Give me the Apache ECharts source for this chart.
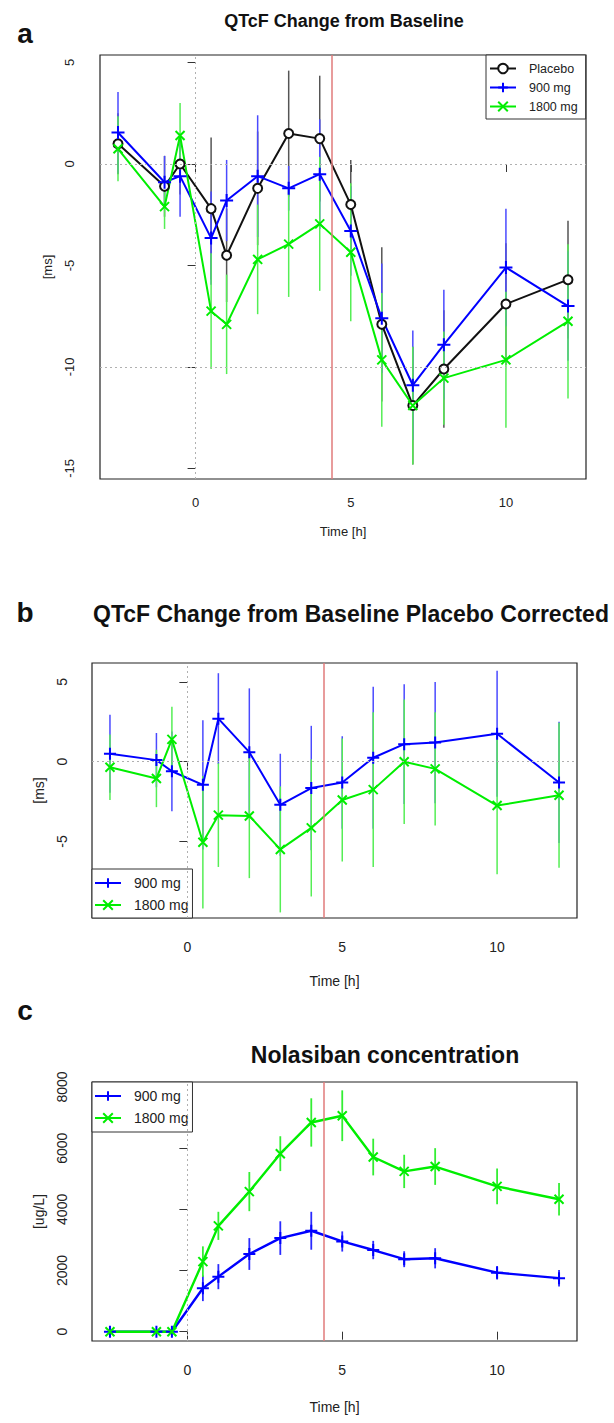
<!DOCTYPE html>
<html>
<head>
<meta charset="utf-8">
<script src="https://cdn.jsdelivr.net/npm/echarts@6/dist/echarts.min.js"></script>
<style>
html,body{margin:0;padding:0;background:#fff;}
#chart{width:614px;height:1423px;}
</style>
</head>
<body>
<div id="chart"></div>
<script>
// ---------------- DATA ----------------
const times = [-2.5, -1, -0.5, 0.5, 1, 2, 3, 4, 5, 6, 7, 8, 10, 12];
const xTicks = [0, 5, 10];
const yTicksA = [-15, -10, -5, 0, 5];
const yTicksB = [-5, 0, 5];
const yTicksC = [0, 2000, 4000, 6000, 8000];
const tmaxLine = [4.4];
const vRefA = [0], hRefA = [0, -10];
const vRefB = [0], hRefB = [0];
const vRefC = [0], hRefC = [];

// Panel a: QTcF change from baseline (mean, half error bar)
const placeboA    = [1.0, -1.1, 0.0, -2.2, -4.5, -1.2, 1.5, 1.25, -2.0, -7.9, -11.9, -10.1, -6.9, -5.7];
const placeboAErr = [1.5, 1.5, 1.5, 3.5, 2.3, 2.8, 3.1, 3.1, 2.2, 3.8, 2.9, 2.9, 3.0, 2.9];
const mg900A      = [1.55, -0.9, -0.6, -3.65, -1.8, -0.6, -1.2, -0.5, -3.3, -7.6, -10.9, -8.9, -5.1, -7.0];
const mg900AErr   = [2.0, 1.3, 2.0, 2.3, 2.0, 3.0, 1.1, 2.7, 2.2, 2.7, 2.7, 2.7, 2.9, 2.7];
const mg1800A     = [0.75, -2.1, 1.4, -7.25, -7.9, -4.7, -3.95, -2.95, -4.35, -9.65, -11.9, -10.55, -9.65, -7.75];
const mg1800AErr  = [1.6, 1.1, 1.6, 2.85, 2.45, 2.7, 2.6, 3.3, 3.4, 3.3, 2.9, 2.3, 3.35, 3.8];

// Panel b: placebo corrected
const mg900B      = [0.5, 0.1, -0.6, -1.45, 2.7, 0.6, -2.7, -1.65, -1.3, 0.25, 1.1, 1.2, 1.75, -1.3];
const mg900BErr   = [2.45, 1.7, 2.5, 4.05, 2.85, 4.0, 3.2, 3.9, 2.9, 4.45, 3.75, 3.8, 3.95, 3.8];
const mg1800B     = [-0.35, -1.05, 1.4, -5.05, -3.35, -3.4, -5.5, -4.15, -2.4, -1.75, 0.0, -0.45, -2.75, -2.1];
const mg1800BErr  = [2.05, 1.8, 2.05, 4.15, 3.25, 3.9, 3.95, 4.3, 3.85, 4.85, 3.9, 3.55, 4.3, 4.55];

// Panel c: Nolasiban concentration [ug/L]
const mg900C      = [0, 0, 0, 1420, 1800, 2540, 3060, 3300, 2950, 2670, 2370, 2400, 1930, 1750];
const mg900CErr   = [0, 0, 0, 420, 410, 520, 550, 620, 330, 300, 260, 330, 220, 270];
const mg1800C     = [0, 0, 0, 2290, 3460, 4580, 5820, 6840, 7060, 5710, 5240, 5400, 4750, 4330];
const mg1800CErr  = [0, 0, 0, 500, 460, 640, 570, 790, 830, 600, 545, 600, 585, 535];

// ---------------- STYLE ----------------
const FONT = "'Liberation Sans', Arial, Helvetica, sans-serif";
const BLACK = '#111111', BLUE = '#0000ff', GREEN = '#00ee00';
const PLUS = 'path://M5,0L5,10M0,5L10,5';
const CROSS = 'path://M0,0L10,10M10,0L0,10';

const grids = [
  {left: 100, top: 55, width: 486, height: 424},
  {left: 92, top: 663, width: 485, height: 255},
  {left: 92, top: 1082, width: 485, height: 259}
];
const yRanges = [[-15.52, 5.37], [-9.8, 6.19], [-304, 8163]];
const yTicks = [yTicksA, yTicksB, yTicksC];
const yNames = ['[ms]', '[ms]', '[ug/L]'];
const labelSize = [13, 14, 14];
const plain = v => String(v);

const xAxes = grids.map((g, i) => ({
  type: 'value', gridIndex: i, min: -3.08, max: 12.58,
  axisLine: {show: false},
  splitLine: {show: false},
  axisTick: {show: true, inside: false, length: 8, customValues: xTicks, lineStyle: {color: '#333', width: 1}},
  axisLabel: {customValues: xTicks, formatter: plain, margin: i === 0 ? 17 : 22, fontSize: labelSize[i], color: '#222', fontFamily: FONT},
  name: 'Time [h]', nameLocation: 'middle', nameGap: i === 0 ? 46 : (i === 1 ? 56 : 59),
  nameTextStyle: {fontSize: labelSize[i], color: '#222', fontFamily: FONT}
}));
const yAxes = grids.map((g, i) => ({
  type: 'value', gridIndex: i, min: yRanges[i][0], max: yRanges[i][1],
  axisLine: {show: false},
  splitLine: {show: false},
  axisTick: {show: true, inside: false, length: 8, customValues: yTicks[i], lineStyle: {color: '#333', width: 1}},
  axisLabel: {customValues: yTicks[i], formatter: plain, rotate: 90, margin: i === 0 ? 24 : 23, fontSize: labelSize[i], color: '#222', fontFamily: FONT},
  name: yNames[i], nameLocation: 'middle', nameRotate: 90, nameGap: 46,
  nameTextStyle: {fontSize: labelSize[i], color: '#222', fontFamily: FONT}
}));

function errSeries(gi, means, errs, color, width) {
  return {
    type: 'custom', xAxisIndex: gi, yAxisIndex: gi, silent: true, z: 2,
    data: times.map((t, k) => [t, means[k] - errs[k], means[k] + errs[k]]),
    encode: {x: 0, y: [1, 2]},
    renderItem: function (params, api) {
      const p1 = api.coord([api.value(0), api.value(1)]);
      const p2 = api.coord([api.value(0), api.value(2)]);
      return {type: 'line', shape: {x1: p1[0], y1: p1[1], x2: p2[0], y2: p2[1]},
        style: {stroke: color, lineWidth: width}};
    }
  };
}

function refMarks(vRefs, hRefs, red) {
  const data = [];
  vRefs.forEach(v => data.push({xAxis: v, lineStyle: {color: '#b0b0b0', type: [2, 3], width: 1}}));
  hRefs.forEach(h => data.push({yAxis: h, lineStyle: {color: '#b0b0b0', type: [2, 3], width: 1}}));
  red.forEach(v => data.push({xAxis: v, lineStyle: {color: '#e07b7b', type: 'solid', width: 1.5}}));
  return {symbol: 'none', silent: true, label: {show: false}, data: data, animation: false};
}

function lineSeries(gi, name, means, color, symbol, size, lw, marks) {
  const s = {
    type: 'line', name: name, xAxisIndex: gi, yAxisIndex: gi, z: 3,
    data: times.map((t, k) => [t, means[k]]),
    symbol: symbol, symbolSize: size, showSymbol: true,
    lineStyle: {color: color, width: lw},
    itemStyle: {color: color, borderColor: color, borderWidth: symbol === 'emptyCircle' ? 1.6 : 2},
    animation: false
  };
  if (marks) s.markLine = marks;
  return s;
}

const series = [
  // panel a
  errSeries(0, placeboA, placeboAErr, '#555555', 1.5),
  errSeries(0, mg900A, mg900AErr, '#4a4aff', 1.5),
  errSeries(0, mg1800A, mg1800AErr, '#55ee55', 1.5),
  lineSeries(0, 'Placebo', placeboA, BLACK, 'emptyCircle', 9, 2, refMarks(vRefA, hRefA, tmaxLine)),
  lineSeries(0, '900 mg', mg900A, BLUE, PLUS, 13, 2),
  lineSeries(0, '1800 mg', mg1800A, GREEN, CROSS, 9, 2),
  // panel b
  errSeries(1, mg900B, mg900BErr, '#4a4aff', 1.5),
  errSeries(1, mg1800B, mg1800BErr, '#55ee55', 1.5),
  lineSeries(1, '900 mg', mg900B, BLUE, PLUS, 12, 2, refMarks(vRefB, hRefB, tmaxLine)),
  lineSeries(1, '1800 mg', mg1800B, GREEN, CROSS, 9, 2),
  // panel c
  errSeries(2, mg900C, mg900CErr, '#2a2aff', 1.8),
  errSeries(2, mg1800C, mg1800CErr, '#33ee33', 1.8),
  lineSeries(2, '900 mg', mg900C, BLUE, PLUS, 12, 2.4, refMarks(vRefC, hRefC, tmaxLine)),
  lineSeries(2, '1800 mg', mg1800C, GREEN, CROSS, 9, 2.4)
];

const legendCommon = {
  orient: 'vertical', backgroundColor: '#fff', borderColor: '#333', borderWidth: 1,
  itemWidth: 26, itemHeight: 12, selectedMode: false
};

const option = {
  backgroundColor: '#ffffff',
  animation: false,
  grid: grids.map(g => Object.assign({show: true, borderColor: '#222', borderWidth: 1.2, backgroundColor: 'transparent', containLabel: false}, g)),
  xAxis: xAxes,
  yAxis: yAxes,
  legend: [
    Object.assign({}, legendCommon, {left: 486, top: 55, data: ['Placebo', '900 mg', '1800 mg'],
      padding: [7, 8, 6, 3], itemGap: 6, textStyle: {fontSize: 12.5, color: '#222', fontFamily: FONT, padding: [0, 0, 0, 8]}}),
    Object.assign({}, legendCommon, {left: 92, top: 869, data: ['900 mg', '1800 mg'],
      padding: [7, 4, 6, 2], itemGap: 8, textStyle: {fontSize: 14, color: '#222', fontFamily: FONT, padding: [0, 0, 0, 8]}}),
    Object.assign({}, legendCommon, {left: 92, top: 1082, data: ['900 mg', '1800 mg'],
      padding: [7, 4, 7, 2], itemGap: 8, textStyle: {fontSize: 14, color: '#222', fontFamily: FONT, padding: [0, 0, 0, 8]}})
  ],
  graphic: [
    {type: 'text', x: 25, y: 33, style: {text: 'a', font: 'bold 28px ' + FONT, fill: '#111', align: 'center', verticalAlign: 'middle', textAlign: 'center', textVerticalAlign: 'middle'}},
    {type: 'text', x: 344, y: 21, style: {text: 'QTcF Change from Baseline', font: 'bold 18px ' + FONT, fill: '#111', align: 'center', verticalAlign: 'middle', textAlign: 'center', textVerticalAlign: 'middle'}},
    {type: 'text', x: 25, y: 612, style: {text: 'b', font: 'bold 28px ' + FONT, fill: '#111', align: 'center', verticalAlign: 'middle', textAlign: 'center', textVerticalAlign: 'middle'}},
    {type: 'text', x: 93, y: 614, style: {text: 'QTcF Change from Baseline Placebo Corrected', font: 'bold 23px ' + FONT, fill: '#111', align: 'left', verticalAlign: 'middle', textAlign: 'left', textVerticalAlign: 'middle'}},
    {type: 'text', x: 25, y: 1010, style: {text: 'c', font: 'bold 28px ' + FONT, fill: '#111', align: 'center', verticalAlign: 'middle', textAlign: 'center', textVerticalAlign: 'middle'}},
    {type: 'text', x: 385, y: 1055, style: {text: 'Nolasiban concentration', font: 'bold 23px ' + FONT, fill: '#111', align: 'center', verticalAlign: 'middle', textAlign: 'center', textVerticalAlign: 'middle'}}
  ],
  series: series
};

const chart = echarts.init(document.getElementById('chart'), null, {renderer: 'svg', width: 614, height: 1423});
chart.setOption(option);
</script>
</body>
</html>
